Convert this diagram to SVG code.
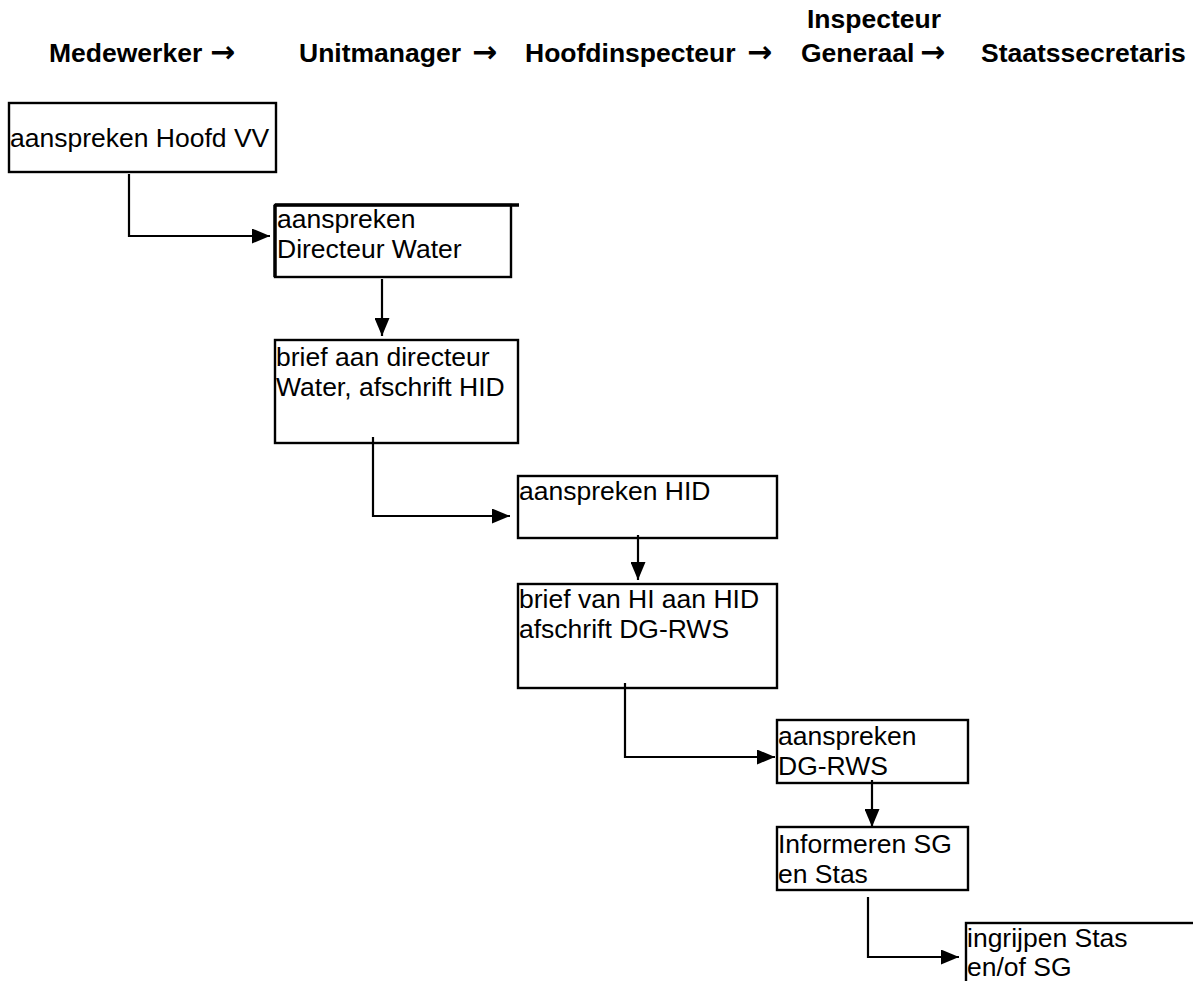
<svg xmlns="http://www.w3.org/2000/svg" width="1193" height="981" viewBox="0 0 1193 981">
<style>
.h{font-family:"Liberation Sans",Arial,sans-serif;font-weight:bold;font-size:26.5px;fill:#000}
.ar{font-family:"DejaVu Sans",sans-serif;font-weight:bold;font-size:30px}
.t{font-family:"Liberation Sans",Arial,sans-serif;font-size:26.5px;fill:#000}
.box{fill:#fff;stroke:#000;stroke-width:2.4}
.c{fill:none;stroke:#000;stroke-width:2.2}
</style>
<defs>
<marker id="ah" markerUnits="userSpaceOnUse" markerWidth="18" markerHeight="15" refX="18" refY="7.5" orient="auto">
<path d="M0,0 L18,7.5 L0,15 z" fill="#000"/>
</marker>
</defs>
<rect width="1193" height="981" fill="#fff"/>
<g id="headers">
<text class="h" x="49" y="62">Medewerker<tspan class="ar" x="210">→</tspan></text>
<text class="h" x="299" y="62">Unitmanager<tspan class="ar" x="472">→</tspan></text>
<text class="h" x="525" y="62">Hoofdinspecteur<tspan class="ar" x="747">→</tspan></text>
<text class="h" x="807" y="28">Inspecteur</text>
<text class="h" x="801" y="62">Generaal<tspan class="ar" x="920">→</tspan></text>
<text class="h" x="981" y="62">Staatssecretaris</text>
</g>
<g id="n1">
<rect class="box" x="9" y="103" width="267" height="69"/>
<text class="t" x="10" y="147">aanspreken Hoofd VV</text>
</g>
<g id="n2">
<rect class="box" x="275" y="205" width="236" height="72"/>
<path d="M275,205 H519 M275,205 V277" stroke="#000" stroke-width="3.4" fill="none"/>
<text class="t" x="277" y="228">aanspreken<tspan x="277" y="258">Directeur Water</tspan></text>
</g>
<g id="n3">
<rect class="box" x="275" y="340" width="243" height="103"/>
<text class="t" x="276" y="366">brief aan directeur<tspan x="276" y="396">Water, afschrift HID</tspan></text>
</g>
<g id="n4">
<rect class="box" x="518" y="476" width="259" height="62"/>
<text class="t" x="519" y="500">aanspreken HID</text>
</g>
<g id="n5">
<rect class="box" x="518" y="584" width="259" height="104"/>
<text class="t" x="519" y="608">brief van HI aan HID<tspan x="519" y="638">afschrift DG-RWS</tspan></text>
</g>
<g id="n6">
<rect class="box" x="777" y="720" width="191" height="63"/>
<text class="t" x="778" y="745">aanspreken<tspan x="778" y="775">DG-RWS</tspan></text>
</g>
<g id="n7">
<rect class="box" x="777" y="827" width="191" height="63"/>
<text class="t" x="778" y="853">Informeren SG<tspan x="778" y="883">en Stas</tspan></text>
</g>
<g id="n8">
<rect class="box" x="966" y="923" width="240" height="80"/>
<text class="t" x="967" y="947">ingrijpen Stas<tspan x="967" y="976">en/of SG</tspan></text>
</g>
<g id="connectors">
<path class="c" d="M129,174 V236 H270" marker-end="url(#ah)"/>
<path class="c" d="M382,279 V336" marker-end="url(#ah)"/>
<path class="c" d="M373,437 V516 H510" marker-end="url(#ah)"/>
<path class="c" d="M638,535 V580" marker-end="url(#ah)"/>
<path class="c" d="M625,683 V757 H775" marker-end="url(#ah)"/>
<path class="c" d="M872,780 V827" marker-end="url(#ah)"/>
<path class="c" d="M868,897 V957 H959" marker-end="url(#ah)"/>
</g>
</svg>
